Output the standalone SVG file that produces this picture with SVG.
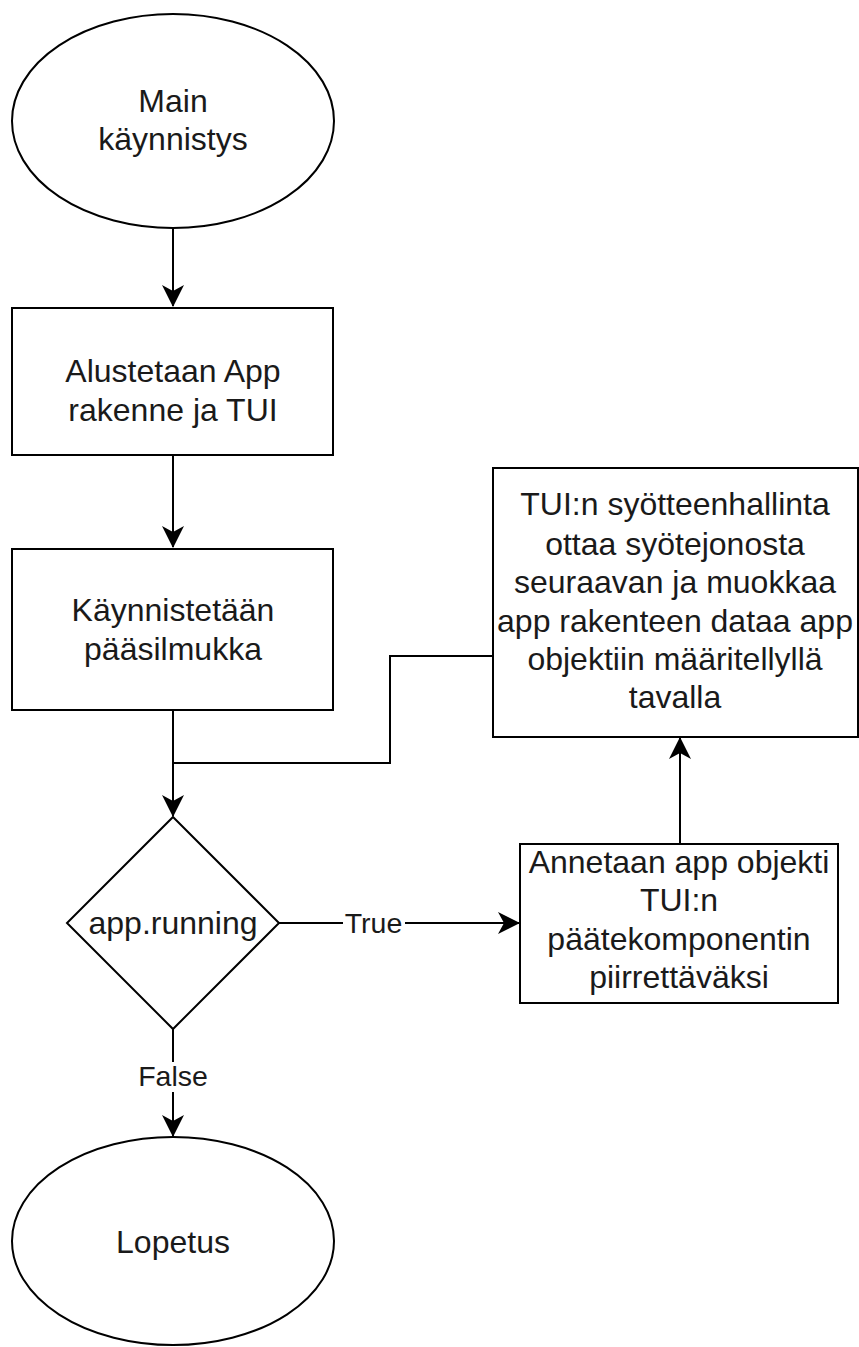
<svg xmlns="http://www.w3.org/2000/svg" width="859" height="1347" viewBox="0 0 859 1347">
<defs>
<style>
.shape{fill:#ffffff;stroke:#000000;stroke-width:2}
.edge{fill:none;stroke:#000000;stroke-width:2}
text{font-family:"Liberation Sans",Arial,sans-serif;font-size:32px;fill:#1a1a1a;text-anchor:middle}
.lbl{font-size:28.5px}
</style>
<marker id="arr" viewBox="0 0 22 22" refX="21" refY="11" markerWidth="22" markerHeight="22" markerUnits="userSpaceOnUse" orient="auto">
<path d="M0,0 L22,11 L0,22 L6,11 Z" fill="#000"/>
</marker>
</defs>
<rect width="859" height="1347" fill="#ffffff"/>

<g id="connectors">
<line class="edge" x1="173" y1="229" x2="173" y2="306" marker-end="url(#arr)"/>
<line class="edge" x1="173" y1="455" x2="173" y2="547" marker-end="url(#arr)"/>
<line class="edge" x1="173" y1="710" x2="173" y2="816" marker-end="url(#arr)"/>
<polyline class="edge" points="493,656 390,656 390,763 173,763"/>
<line class="edge" x1="278" y1="923" x2="519" y2="923" marker-end="url(#arr)"/>
<rect x="343" y="906" width="62" height="34" fill="#ffffff"/>
<text class="lbl" x="373.5" y="933">True</text>
<line class="edge" x1="680" y1="843" x2="680" y2="738" marker-end="url(#arr)"/>
<line class="edge" x1="173" y1="1029" x2="173" y2="1136" marker-end="url(#arr)"/>
<rect x="137" y="1062" width="72" height="30" fill="#ffffff"/>
<text class="lbl" x="173" y="1086">False</text>
</g>

<g id="start">
<ellipse class="shape" cx="173" cy="121" rx="161" ry="107"/>
<text x="173" y="112">Main</text>
<text x="173" y="150">käynnistys</text>
</g>

<g id="init">
<rect class="shape" x="12" y="308" width="321" height="147"/>
<text x="173" y="382">Alustetaan App</text>
<text x="173" y="421">rakenne ja TUI</text>
</g>

<g id="mainloop">
<rect class="shape" x="12" y="549" width="321" height="161"/>
<text x="173" y="621">Käynnistetään</text>
<text x="173" y="660">pääsilmukka</text>
</g>

<g id="decision">
<polygon class="shape" points="173,817 279,923 173,1029 67,923"/>
<text x="173" y="934">app.running</text>
</g>

<g id="input">
<rect class="shape" x="493" y="468" width="365" height="269"/>
<text x="675" y="515">TUI:n syötteenhallinta</text>
<text x="675" y="555">ottaa syötejonosta</text>
<text x="675" y="593">seuraavan ja muokkaa</text>
<text x="675" y="632">app rakenteen dataa app</text>
<text x="675" y="670">objektiin määritellyllä</text>
<text x="675" y="708">tavalla</text>
</g>

<g id="render">
<rect class="shape" x="520" y="844" width="318" height="159"/>
<text x="679" y="873">Annetaan app objekti</text>
<text x="679" y="911">TUI:n</text>
<text x="679" y="950">päätekomponentin</text>
<text x="679" y="988">piirrettäväksi</text>
</g>

<g id="end">
<ellipse class="shape" cx="173" cy="1241" rx="161" ry="104"/>
<text x="173" y="1253">Lopetus</text>
</g>
</svg>
